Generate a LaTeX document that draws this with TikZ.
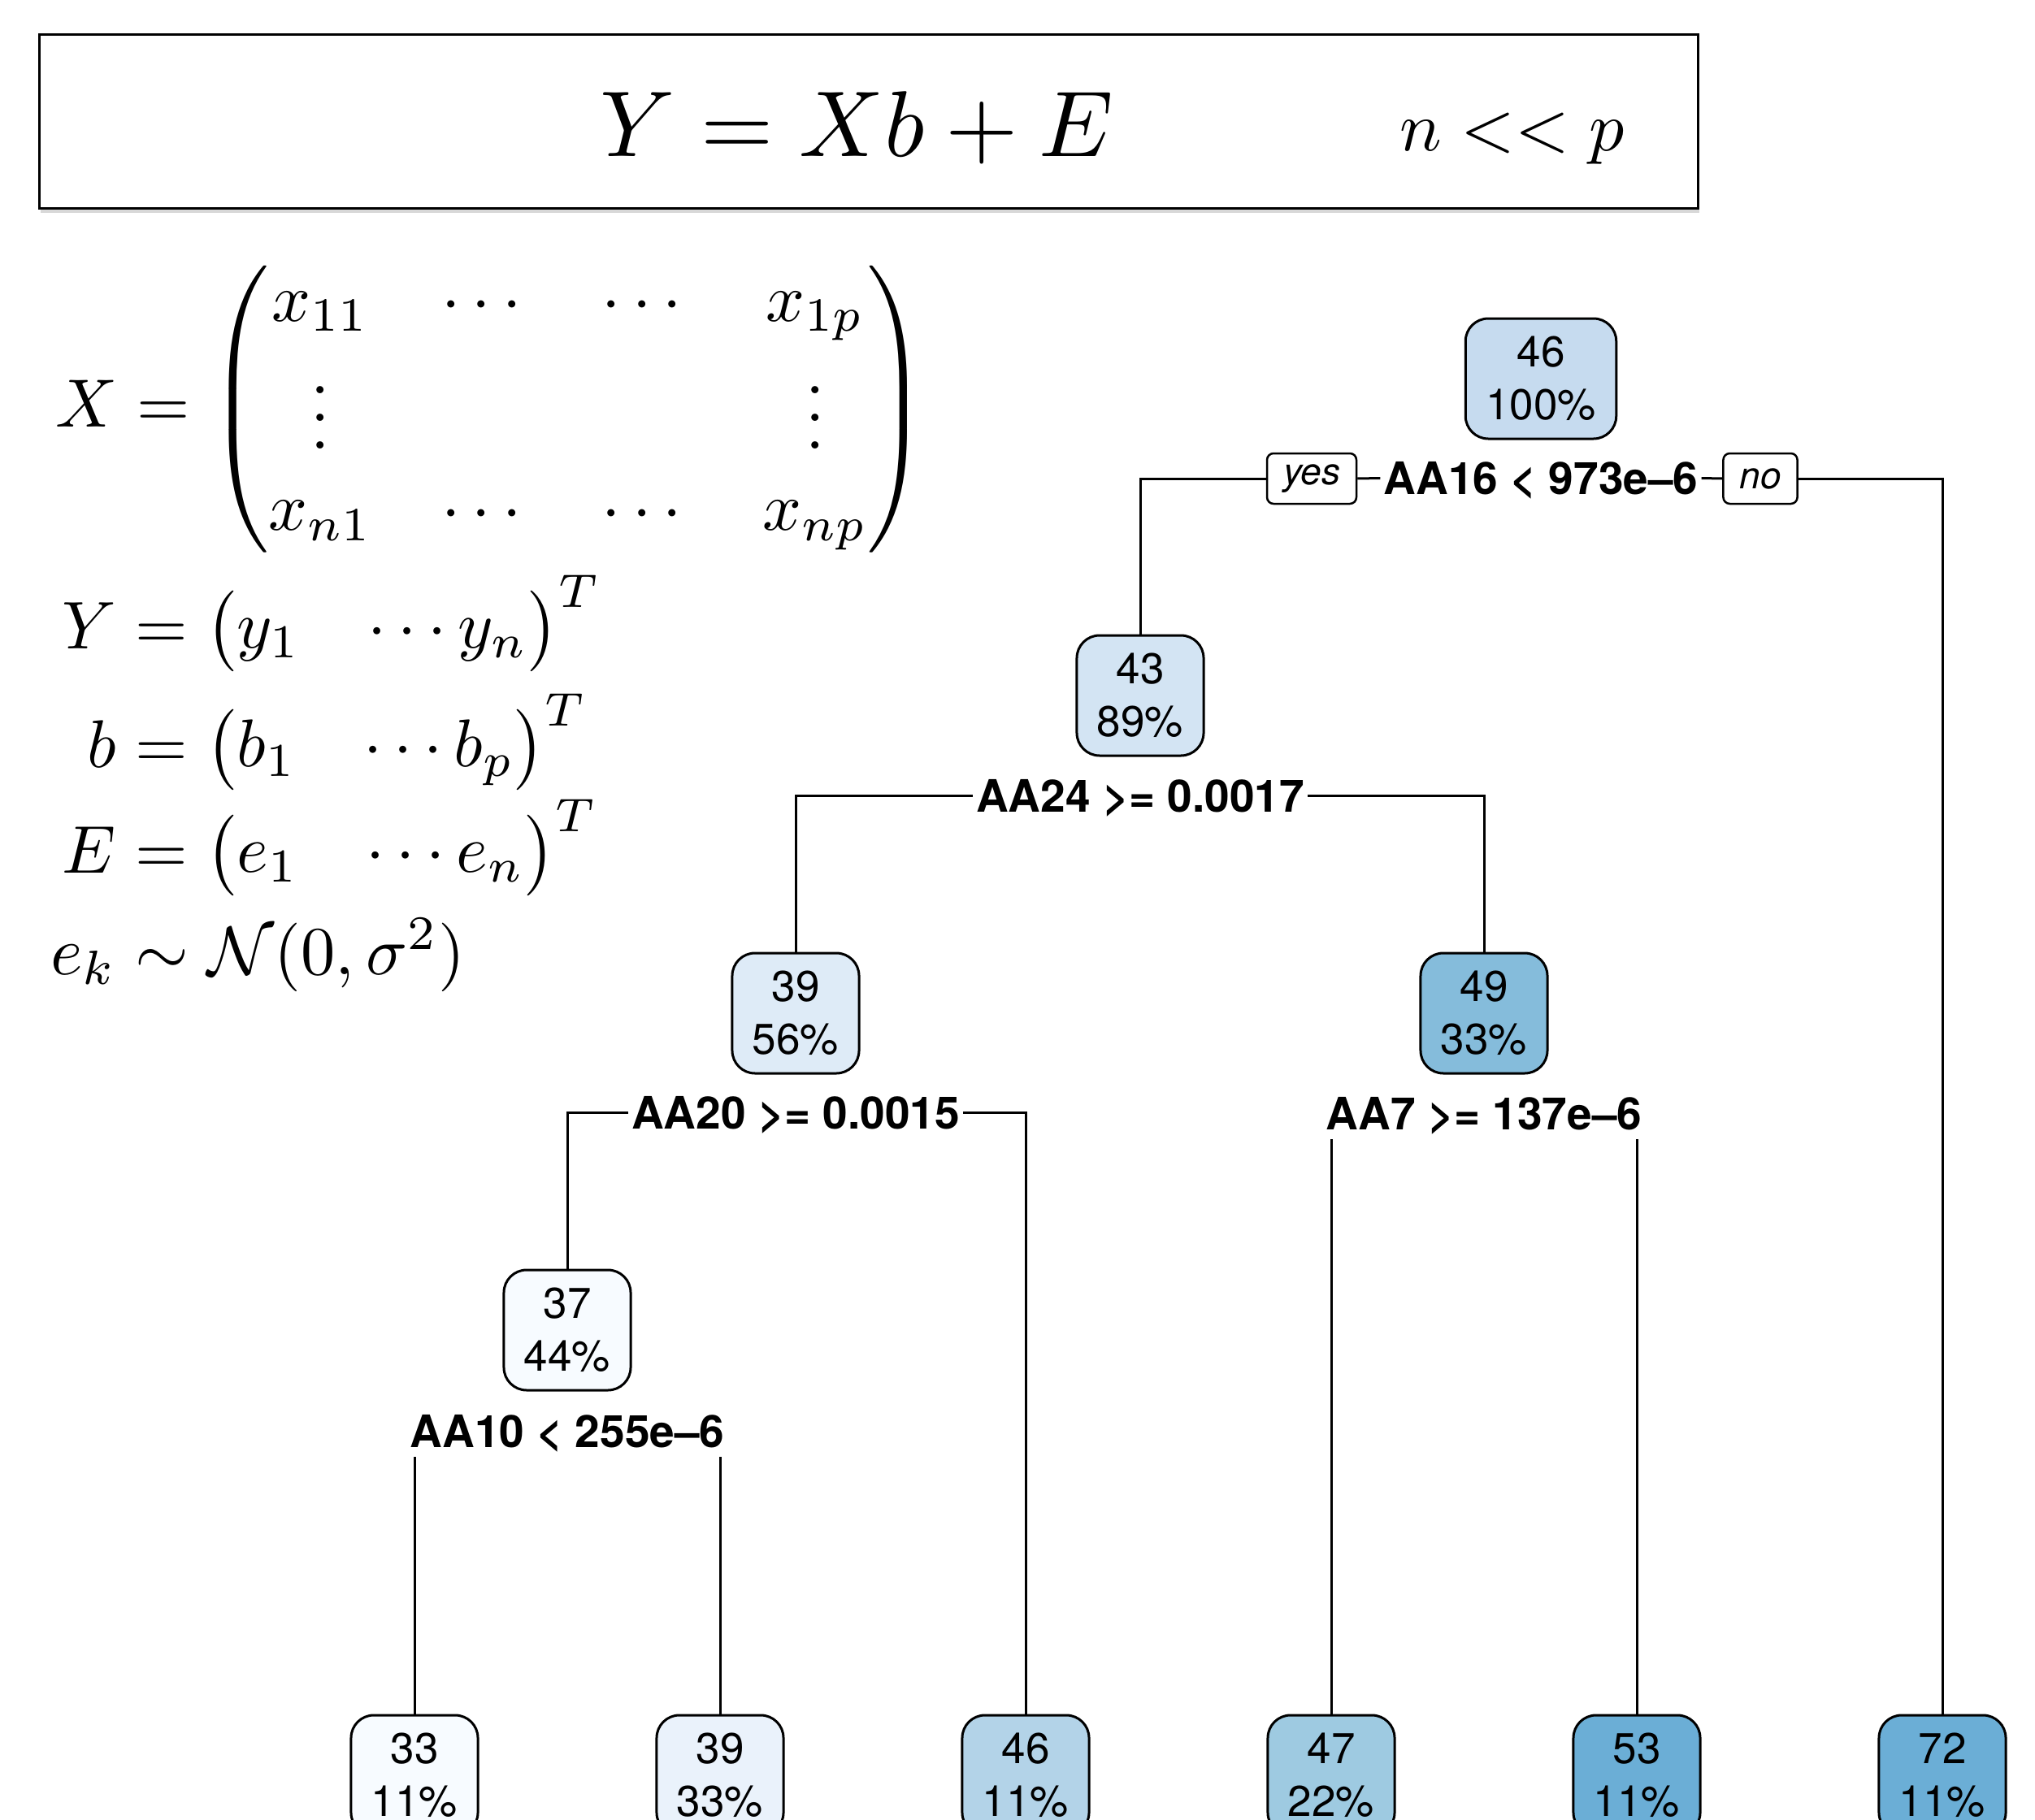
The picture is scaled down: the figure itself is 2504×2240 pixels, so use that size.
\documentclass[tikz,border=0pt]{standalone}
\usepackage{amsmath}
\usepackage{graphicx}
\usepackage{fontspec}
\newfontfamily\helv{TeX Gyre Heros}
\usetikzlibrary{shadows}
\definecolor{cRoot}{HTML}{C6DBEF}
\definecolor{cA}{HTML}{D3E4F3}
\definecolor{cB}{HTML}{DEEBF7}
\definecolor{cC}{HTML}{85BCDB}
\definecolor{cD}{HTML}{F7FBFF}
\definecolor{cE}{HTML}{EAF2FB}
\definecolor{cF}{HTML}{B3D3E8}
\definecolor{cG}{HTML}{9ECAE1}
\definecolor{cH}{HTML}{6BAED6}
\begin{document}
\begin{tikzpicture}[x=1pt,y=-1pt,
  tnode/.style={draw, line width=3pt, rounded corners=28pt, minimum width=155pt,
    minimum height=148pt, inner xsep=25pt, inner ysep=0pt, align=center,
    font=\helv\fontsize{53}{65}\selectfont},
  splitlab/.style={font=\helv\bfseries\fontsize{55}{60}\selectfont, text height=39pt,
    text depth=0pt, inner xsep=4pt, inner ysep=12pt, anchor=base},
  ynbox/.style={draw, line width=2.5pt, rounded corners=8pt, minimum height=62pt,
    inner xsep=20pt, inner ysep=0pt, font=\helv\itshape\fontsize{46}{50}\selectfont},
  edge/.style={line width=3pt},
  mathtxt/.style={inner sep=0pt}
]
\useasboundingbox (0,0) rectangle (2504,2240);
\clip (0,0) rectangle (2504,2240);

% top box
\node[draw, line width=3pt, fill=white, minimum width=2041pt, minimum height=213pt,
  inner sep=0pt, drop shadow={shadow xshift=2pt, shadow yshift=-6pt, fill=black!30, opacity=0.5}]
  (box) at (1068.5,149.5) {};
\node[mathtxt, anchor=base west] (eq) at (738,192) {\scalebox{11.5}{$Y = Xb + E$}};
\node[mathtxt, anchor=base west] (np) at (1722,185) {\scalebox{8.6}{$n << p$}};

% left formulas
\node[mathtxt, anchor=base east] (lX) at (145,525) {\scalebox{8.4}{$X$}};
\node[mathtxt, anchor=base west] (rX) at (145,525) {\scalebox{8.4}{${}=\setlength{\arraycolsep}{5.1pt}\begin{pmatrix} x_{11} & \cdots & \cdots & x_{1p}\\ \vdots & & & \vdots \\ x_{n1} & \cdots & \cdots & x_{np}\end{pmatrix}$}};
\node[mathtxt, anchor=base east] (lY) at (143,798) {\scalebox{8.3}{$Y$}};
\node[mathtxt, anchor=base west] (rY) at (143,798) {\scalebox{8.3}{${}=\begin{pmatrix} y_1 & \cdots y_n\end{pmatrix}^T$}};
\node[mathtxt, anchor=base east] (lb) at (143,944) {\scalebox{8.3}{$b$}};
\node[mathtxt, anchor=base west] (rb) at (143,944) {\scalebox{8.3}{${}=\begin{pmatrix} b_1 & \cdots b_p\end{pmatrix}^T$}};
\node[mathtxt, anchor=base east] (lE) at (143,1074) {\scalebox{8.3}{$E$}};
\node[mathtxt, anchor=base west] (rE) at (143,1074) {\scalebox{8.3}{${}=\begin{pmatrix} e_1 & \cdots e_n\end{pmatrix}^T$}};
\node[mathtxt, anchor=base west] (ek) at (62,1199) {\scalebox{8.45}{$e_k \sim \mathcal{N}(0,\sigma^2)$}};

% tree nodes
\node[tnode, fill=cRoot] (n46) at (1896,466) {46\\100\%};
\node[tnode, fill=cA] (n43) at (1403,856) {43\\89\%};
\node[tnode, fill=cB] (n39) at (979,1247) {39\\56\%};
\node[tnode, fill=cC] (n49) at (1826,1247) {49\\33\%};
\node[tnode, fill=cD] (n37) at (698,1637) {37\\44\%};
\node[tnode, fill=cD] (l33) at (510,2185) {33\\11\%};
\node[tnode, fill=cE] (l39) at (886,2185) {39\\33\%};
\node[tnode, fill=cF] (l46) at (1262,2185) {46\\11\%};
\node[tnode, fill=cG] (l47) at (1638,2185) {47\\22\%};
\node[tnode, fill=cH] (l53) at (2014,2185) {53\\11\%};
\node[tnode, fill=cH] (l72) at (2390,2185) {72\\11\%};

% split labels
\node[splitlab] (s1) at (1896,608) {AA16 < 973e–6};
\node[splitlab] (s2) at (1403,999) {AA24 >= 0.0017};
\node[splitlab] (s3) at (979,1389) {AA20 >= 0.0015};
\node[splitlab] (s4) at (698,1781) {AA10 < 255e–6};
\node[splitlab] (s5) at (1826,1390) {AA7 >= 137e–6};

\node[ynbox] (yes) at (1614,589) {yes};
\node[ynbox] (no) at (2166,589) {no};

% edges
\draw[edge] (yes.west) -| (n43.north);
\draw[edge] (yes.east) -- (s1.west);
\draw[edge] (s1.east) -- (no.west);
\draw[edge] (no.east) -| (l72.north);
\draw[edge] (s2.west) -| (n39.north);
\draw[edge] (s2.east) -| (n49.north);
\draw[edge] (s3.west) -| (n37.north);
\draw[edge] (s3.east) -| (l46.north);
\draw[edge] (l33.north) -- (l33.north |- s4.south);
\draw[edge] (l39.north) -- (l39.north |- s4.south);
\draw[edge] (l47.north) -- (l47.north |- s5.south);
\draw[edge] (l53.north) -- (l53.north |- s5.south);
\end{tikzpicture}
\end{document}
